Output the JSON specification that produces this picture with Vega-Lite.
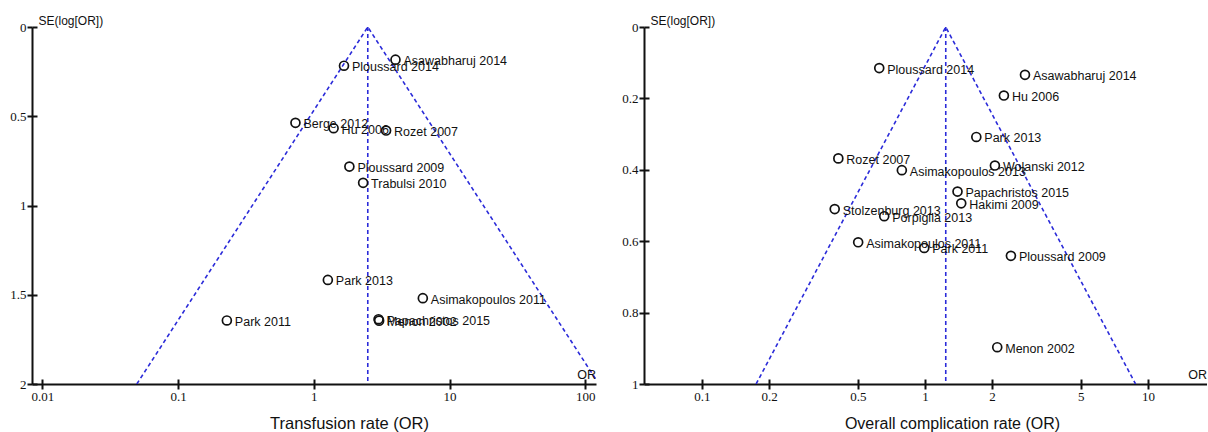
{
  "$schema": "https://vega.github.io/schema/vega-lite/v6.json",
  "padding": {"left": 9, "top": 14, "right": 0, "bottom": 0},
  "bounds": "flush",
  "spacing": 48,
  "datasets": {
    "funnelA": [
      {"i": 1, "or": 0.0497, "se": 2},
      {"i": 2, "or": 2.5, "se": 0},
      {"i": 3, "or": 126, "se": 2}
    ],
    "poolA": [{"or": 2.5, "se0": 0, "se1": 2}],
    "studiesA": [
      {"study": "Asawabharuj 2014", "or": 4.0, "se": 0.183},
      {"study": "Ploussard 2014", "or": 1.67, "se": 0.217},
      {"study": "Berge 2012", "or": 0.733, "se": 0.537},
      {"study": "Hu 2006", "or": 1.4, "se": 0.567},
      {"study": "Rozet 2007", "or": 3.41, "se": 0.58},
      {"study": "Ploussard 2009", "or": 1.83, "se": 0.782},
      {"study": "Trabulsi 2010", "or": 2.31, "se": 0.873},
      {"study": "Park 2013", "or": 1.27, "se": 1.417},
      {"study": "Asimakopoulos 2011", "or": 6.36, "se": 1.519},
      {"study": "Papachristos 2015", "or": 3.0, "se": 1.637},
      {"study": "Menon 2002", "or": 3.03, "se": 1.645},
      {"study": "Park 2011", "or": 0.229, "se": 1.644}
    ],
    "funnelB": [
      {"i": 1, "or": 0.175, "se": 1},
      {"i": 2, "or": 1.24, "se": 0},
      {"i": 3, "or": 8.8, "se": 1}
    ],
    "poolB": [{"or": 1.24, "se0": 0, "se1": 1}],
    "studiesB": [
      {"study": "Ploussard 2014", "or": 0.624, "se": 0.115},
      {"study": "Asawabharuj 2014", "or": 2.81, "se": 0.134},
      {"study": "Hu 2006", "or": 2.26, "se": 0.192},
      {"study": "Park 2013", "or": 1.7, "se": 0.308},
      {"study": "Rozet 2007", "or": 0.409, "se": 0.368},
      {"study": "Wolanski 2012", "or": 2.06, "se": 0.388},
      {"study": "Asimakopoulos 2013", "or": 0.788, "se": 0.401},
      {"study": "Papachristos 2015", "or": 1.4, "se": 0.461},
      {"study": "Hakimi 2009", "or": 1.455, "se": 0.494},
      {"study": "Stolzenburg 2013", "or": 0.394, "se": 0.51},
      {"study": "Porpiglia 2013", "or": 0.657, "se": 0.53},
      {"study": "Asimakopoulos 2011", "or": 0.502, "se": 0.603},
      {"study": "Park 2011", "or": 0.993, "se": 0.619},
      {"study": "Ploussard 2009", "or": 2.43, "se": 0.641},
      {"study": "Menon 2002", "or": 2.11, "se": 0.897}
    ]
  },
  "hconcat": [
    {
      "width": 564,
      "height": 357,
      "resolve": {"axis": {"x": "independent", "y": "independent"}},
      "layer": [
        {
          "layer": [
            {
              "data": {"name": "funnelA"},
              "mark": {"type": "line", "color": "#2b2bd9", "strokeWidth": 1.6, "strokeDash": [4, 3], "clip": true},
              "encoding": {
                "x": {"field": "or", "type": "quantitative",
                  "scale": {"type": "log", "domain": [0.0084, 120], "nice": false, "zero": false},
                  "axis": {"orient": "bottom", "values": [0.01, 0.1, 1, 10, 100], "format": "~g", "title": "Transfusion rate (OR)", "titleFontSize": 16.5, "titleX": 317, "titleAlign": "center"}},
                "y": {"field": "se", "type": "quantitative",
                  "scale": {"domain": [0, 2], "reverse": true, "nice": false, "zero": false},
                  "axis": {"orient": "left", "values": [0, 0.5, 1, 1.5, 2], "format": "~g", "title": "SE(log[OR])",
                    "titleAngle": 0, "titleX": 6, "titleY": -3, "titleAlign": "left", "titleBaseline": "alphabetic", "titleFontSize": 12}},
                "order": {"field": "i"}
              }
            },
            {
              "data": {"name": "poolA"},
              "mark": {"type": "rule", "color": "#2b2bd9", "strokeWidth": 1.6, "strokeDash": [4, 3]},
              "encoding": {
                "x": {"field": "or", "type": "quantitative"},
                "y": {"field": "se0", "type": "quantitative"},
                "y2": {"field": "se1"}
              }
            },
            {
              "data": {"name": "studiesA"},
              "mark": {"type": "point", "shape": "circle", "filled": false, "size": 80, "color": "#111", "strokeWidth": 1.7, "opacity": 1},
              "encoding": {
                "x": {"field": "or", "type": "quantitative"},
                "y": {"field": "se", "type": "quantitative"}
              }
            },
            {
              "data": {"name": "studiesA"},
              "mark": {"type": "text", "align": "left", "baseline": "middle", "dx": 8, "dy": 1.5, "font": "Liberation Sans", "fontSize": 12.5, "color": "#111"},
              "encoding": {
                "x": {"field": "or", "type": "quantitative"},
                "y": {"field": "se", "type": "quantitative"},
                "text": {"field": "study"}
              }
            },
            {
              "data": {"name": "poolA"},
              "mark": {"type": "text", "align": "right", "baseline": "alphabetic", "dy": -5, "font": "Liberation Sans", "fontSize": 12.5, "color": "#111"},
              "encoding": {
                "x": {"datum": 120, "type": "quantitative"},
                "y": {"datum": 2, "type": "quantitative"},
                "text": {"value": "OR"}
              }
            }
          ]
        },
        {
          "data": {"name": "poolA"},
          "mark": {"type": "point", "opacity": 0},
          "encoding": {
            "x": {"field": "or", "type": "quantitative",
              "axis": {"orient": "bottom", "values": [0.01, 0.1, 1, 10, 100], "offset": -5, "tickSize": 5, "labels": false, "domain": false, "title": null}},
            "y": {"field": "se0", "type": "quantitative",
              "axis": {"orient": "left", "values": [0, 0.5, 1, 1.5, 2], "offset": -5, "tickSize": 5, "labels": false, "domain": false, "title": null}}
          }
        }
      ]
    },
    {
      "width": 563,
      "height": 357,
      "resolve": {"axis": {"x": "independent", "y": "independent"}},
      "layer": [
        {
          "layer": [
            {
              "data": {"name": "funnelB"},
              "mark": {"type": "line", "color": "#2b2bd9", "strokeWidth": 1.6, "strokeDash": [4, 3], "clip": true},
              "encoding": {
                "x": {"field": "or", "type": "quantitative",
                  "scale": {"type": "log", "domain": [0.055, 18.4], "nice": false, "zero": false},
                  "axis": {"orient": "bottom", "values": [0.1, 0.2, 0.5, 1, 2, 5, 10], "format": "~g", "title": "Overall complication rate (OR)", "titleFontSize": 16, "titleX": 308, "titleAlign": "center"}},
                "y": {"field": "se", "type": "quantitative",
                  "scale": {"domain": [0, 1], "reverse": true, "nice": false, "zero": false},
                  "axis": {"orient": "left", "values": [0, 0.2, 0.4, 0.6, 0.8, 1], "format": "~g", "title": "SE(log[OR])",
                    "titleAngle": 0, "titleX": 6, "titleY": -3, "titleAlign": "left", "titleBaseline": "alphabetic", "titleFontSize": 12}},
                "order": {"field": "i"}
              }
            },
            {
              "data": {"name": "poolB"},
              "mark": {"type": "rule", "color": "#2b2bd9", "strokeWidth": 1.6, "strokeDash": [4, 3]},
              "encoding": {
                "x": {"field": "or", "type": "quantitative"},
                "y": {"field": "se0", "type": "quantitative"},
                "y2": {"field": "se1"}
              }
            },
            {
              "data": {"name": "studiesB"},
              "mark": {"type": "point", "shape": "circle", "filled": false, "size": 80, "color": "#111", "strokeWidth": 1.7, "opacity": 1},
              "encoding": {
                "x": {"field": "or", "type": "quantitative"},
                "y": {"field": "se", "type": "quantitative"}
              }
            },
            {
              "data": {"name": "studiesB"},
              "mark": {"type": "text", "align": "left", "baseline": "middle", "dx": 8, "dy": 1.5, "font": "Liberation Sans", "fontSize": 12.5, "color": "#111"},
              "encoding": {
                "x": {"field": "or", "type": "quantitative"},
                "y": {"field": "se", "type": "quantitative"},
                "text": {"field": "study"}
              }
            },
            {
              "data": {"name": "poolB"},
              "mark": {"type": "text", "align": "right", "baseline": "alphabetic", "dy": -5, "font": "Liberation Sans", "fontSize": 12.5, "color": "#111"},
              "encoding": {
                "x": {"datum": 18.4, "type": "quantitative"},
                "y": {"datum": 1, "type": "quantitative"},
                "text": {"value": "OR"}
              }
            }
          ]
        },
        {
          "data": {"name": "poolB"},
          "mark": {"type": "point", "opacity": 0},
          "encoding": {
            "x": {"field": "or", "type": "quantitative",
              "axis": {"orient": "bottom", "values": [0.1, 0.2, 0.5, 1, 2, 5, 10], "offset": -5, "tickSize": 5, "labels": false, "domain": false, "title": null}},
            "y": {"field": "se0", "type": "quantitative",
              "axis": {"orient": "left", "values": [0, 0.2, 0.4, 0.6, 0.8, 1], "offset": -5, "tickSize": 5, "labels": false, "domain": false, "title": null}}
          }
        }
      ]
    }
  ],
  "config": {
    "view": {"stroke": null},
    "axis": {
      "grid": false,
      "domainColor": "#111",
      "domainWidth": 2,
      "tickColor": "#111",
      "tickWidth": 2,
      "tickSize": 5,
      "labelPadding": 1,
      "labelFont": "Liberation Serif",
      "labelFontSize": 13,
      "labelColor": "#111",
      "titleFont": "Liberation Sans",
      "titleFontWeight": "normal",
      "titleColor": "#111"
    },
    "axisX": {"titlePadding": 12, "labelFlush": false, "labelOverlap": false},
    "axisY": {"labelFlush": false, "labelOverlap": false}
  }
}
